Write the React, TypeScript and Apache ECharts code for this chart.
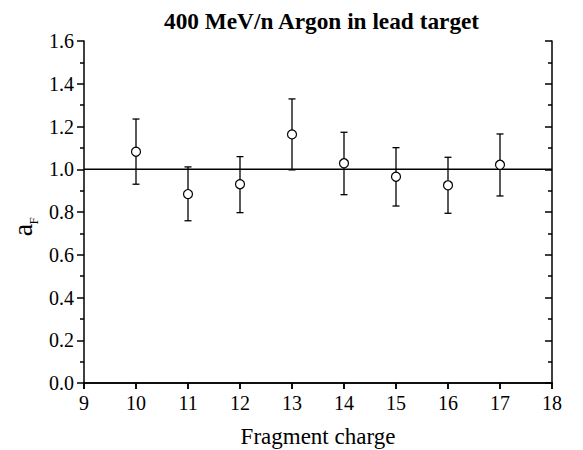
import React, { useEffect, useRef } from "react";
import * as echarts from "echarts";

const titleText = "400 MeV/n Argon in lead target";
const xName = "Fragment charge";
const charges = [10, 11, 12, 13, 14, 15, 16, 17];
const values = [1.082, 0.884, 0.93, 1.163, 1.028, 0.965, 0.925, 1.021];
const lower = [0.93, 0.759, 0.797, 0.997, 0.881, 0.828, 0.794, 0.875];
const upper = [1.235, 1.011, 1.059, 1.329, 1.173, 1.101, 1.056, 1.165];
const refLine = [
  [9, 1.0],
  [18, 1.0],
];

const FONT = "'Liberation Serif', 'Times New Roman', Times, 'DejaVu Serif', serif";

export default function App() {
  const ref = useRef<HTMLDivElement>(null);
  useEffect(() => {
    if (!ref.current) return;
    const chart = echarts.init(ref.current, undefined, { renderer: "svg" });
    const axisLine = { show: true, lineStyle: { color: "#000", width: 1.5 } };
    const tickStyle = { color: "#000", width: 1.5 };
    const option: any = {
      animation: false,
      backgroundColor: "#fff",
      title: {
        text: titleText,
        left: 159,
        top: 4,
        textStyle: { fontFamily: FONT, fontWeight: "bold", fontSize: 23.3, color: "#000" },
      },
      grid: {
        left: 84,
        right: 31,
        top: 41,
        bottom: 67,
        containLabel: false,
        outerBoundsMode: "none",
      },
      xAxis: [
        {
          type: "value",
          min: 9,
          max: 18,
          interval: 1,
          position: "bottom",
          axisLine,
          axisTick: { show: true, inside: false, length: 6, lineStyle: tickStyle },
          axisLabel: { color: "#000", fontFamily: FONT, fontSize: 20, margin: 10 },
          splitLine: { show: false },
          name: xName,
          nameLocation: "middle",
          nameGap: 41,
          nameTextStyle: { color: "#000", fontFamily: FONT, fontSize: 23, lineHeight: 24 },
        },
        {
          type: "value",
          min: 9,
          max: 18,
          interval: 1,
          position: "top",
          axisLine,
          axisTick: { show: true, inside: true, length: 6, lineStyle: tickStyle },
          axisLabel: { show: false },
          splitLine: { show: false },
        },
      ],
      yAxis: [
        {
          type: "value",
          min: 0,
          max: 1.6,
          interval: 0.2,
          position: "left",
          axisLine,
          axisTick: { show: true, inside: false, length: 7, lineStyle: tickStyle },
          minorTick: { show: true, splitNumber: 2, length: 4, lineStyle: tickStyle },
          axisLabel: {
            color: "#000",
            fontFamily: FONT,
            fontSize: 20,
            margin: 10,
            formatter: (v: number) => v.toFixed(1),
          },
          splitLine: { show: false },
        },
        {
          type: "value",
          min: 0,
          max: 1.6,
          interval: 0.2,
          position: "right",
          axisLine,
          axisTick: { show: true, inside: true, length: 7, lineStyle: tickStyle },
          minorTick: { show: true, splitNumber: 2, length: 4, lineStyle: tickStyle },
          axisLabel: { show: false },
          splitLine: { show: false },
        },
      ],
      graphic: [
        {
          type: "text",
          x: 22,
          y: 230,
          rotation: Math.PI / 2,
          style: {
            text: "a",
            fontFamily: FONT,
            fontSize: 28,
            fill: "#000",
            align: "center",
            verticalAlign: "middle",
          },
        },
        {
          type: "text",
          x: 33,
          y: 221,
          rotation: Math.PI / 2,
          style: {
            text: "F",
            fontFamily: FONT,
            fontSize: 13,
            fill: "#000",
            align: "center",
            verticalAlign: "middle",
          },
        },
      ],
      series: [
        {
          type: "line",
          data: refLine,
          symbol: "none",
          silent: true,
          lineStyle: { color: "#000", width: 1.3 },
          z: 2,
        },
        {
          type: "custom",
          data: charges.map((c, i) => [c, lower[i], upper[i]]),
          z: 3,
          renderItem: (params: any, api: any) => {
            const lo = api.coord([api.value(0), api.value(1)]);
            const hi = api.coord([api.value(0), api.value(2)]);
            const w = 3.5;
            const style = { stroke: "#000", lineWidth: 1.3 };
            return {
              type: "group",
              children: [
                { type: "line", shape: { x1: lo[0], y1: lo[1], x2: hi[0], y2: hi[1] }, style },
                { type: "line", shape: { x1: lo[0] - w, y1: lo[1], x2: lo[0] + w, y2: lo[1] }, style },
                { type: "line", shape: { x1: hi[0] - w, y1: hi[1], x2: hi[0] + w, y2: hi[1] }, style },
              ],
            };
          },
        },
        {
          type: "scatter",
          data: charges.map((c, i) => [c, values[i]]),
          symbol: "circle",
          symbolSize: 9,
          itemStyle: { color: "#fff", borderColor: "#000", borderWidth: 1.2, opacity: 1 },
          z: 5,
        },
      ],
    };
    chart.setOption(option);
    return () => chart.dispose();
  }, []);
  return (
    <div
      ref={ref}
      style={{ position: "fixed", left: 0, top: 0, width: 583, height: 450, background: "#fff" }}
    />
  );
}
